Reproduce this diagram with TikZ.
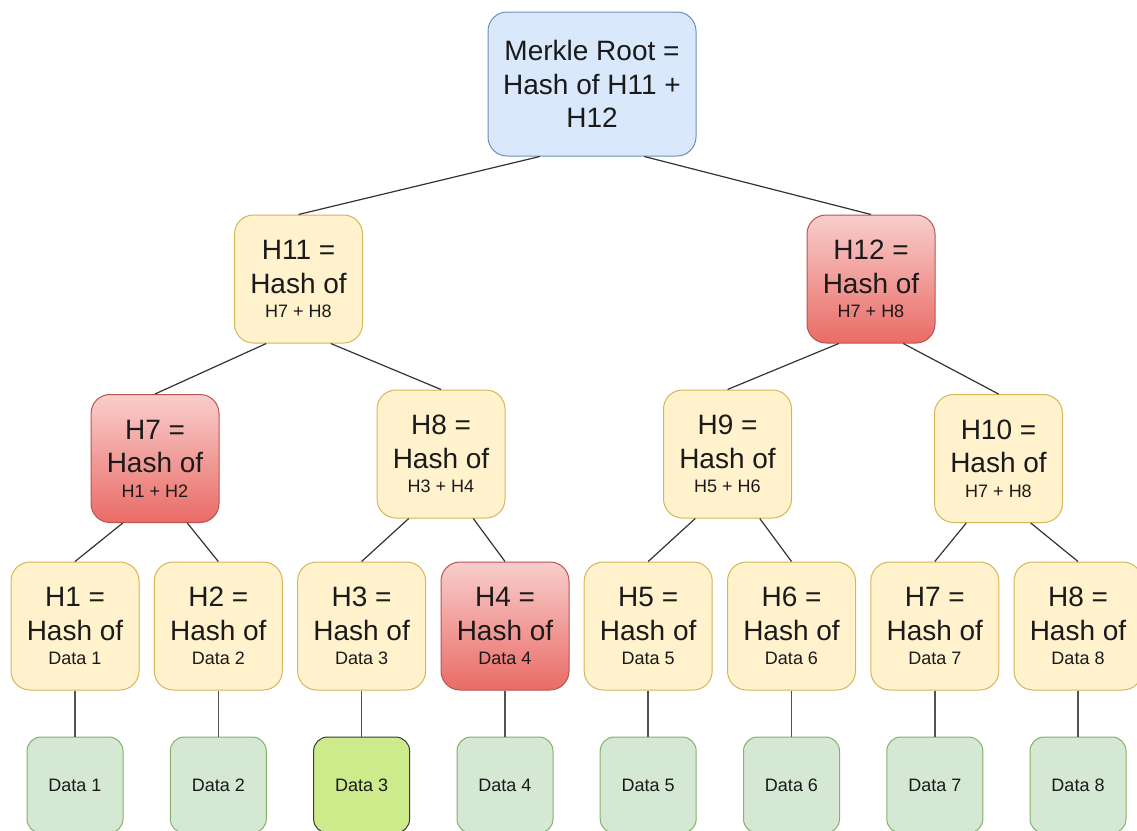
\documentclass[tikz,border=0pt]{standalone}
\usepackage{fontspec}
\setmainfont{Liberation Sans}
\usetikzlibrary{calc}

\definecolor{yfill}{HTML}{FFF2CC}
\definecolor{ydraw}{HTML}{D6B656}
\definecolor{rtop}{HTML}{F8CECC}
\definecolor{rbot}{HTML}{EA6B66}
\definecolor{rdraw}{HTML}{B85450}
\definecolor{bfill}{HTML}{DAE8FC}
\definecolor{bdraw}{HTML}{6C8EBF}
\definecolor{gfill}{HTML}{D5E8D4}
\definecolor{gdraw}{HTML}{82B366}
\definecolor{lfill}{HTML}{CDEB8B}
\definecolor{ldraw}{HTML}{36393D}
\definecolor{edgecol}{HTML}{333333}
\definecolor{txtcol}{HTML}{1A1A1A}

\newcommand\bigtxt{\fontsize{28}{33.6}\selectfont}
\newcommand\smalltxt{\fontsize{18}{21.6}\selectfont}
% three-line hash label: name, "Hash of", small operand line
\newcommand\hashtxt[2]{#1\\Hash of\\[-9pt]{\smalltxt #2}}

\begin{document}
\begin{tikzpicture}[x=1pt,y=-1pt,
  hashbox/.style={draw, rounded corners=19pt, minimum width=128pt,
    minimum height=128pt, inner sep=0pt, align=center, font=\bigtxt,
    text=txtcol, line width=1pt},
  hyel/.style={hashbox, fill=yfill, draw=ydraw},
  hred/.style={hashbox, top color=rtop, bottom color=rbot, draw=rdraw},
  rootbox/.style={hashbox, fill=bfill, draw=bdraw, minimum width=208pt,
    minimum height=144pt},
  databox/.style={draw=gdraw, fill=gfill, rounded corners=14pt,
    minimum width=96pt, minimum height=96pt, inner sep=0pt,
    font=\smalltxt, text=txtcol, line width=1pt},
  link/.style={draw=edgecol, line width=1.2pt},
  vlink/.style={draw=edgecol!85, line width=1.6pt}]

\useasboundingbox (0,0) rectangle (1137,830);

% root
\node[rootbox] (root) at (592,84) {Merkle Root =\\Hash of H11 +\\H12};

% second level
\node[hyel] (h11) at (298.5,279) {\hashtxt{H11 =}{H7 + H8}};
\node[hred] (h12) at (871,279) {\hashtxt{H12 =}{H7 + H8}};

% third level
\node[hred] (h7) at (155,458.5) {\hashtxt{H7 =}{H1 + H2}};
\node[hyel] (h8) at (441,454) {\hashtxt{H8 =}{H3 + H4}};
\node[hyel] (h9) at (727.5,454) {\hashtxt{H9 =}{H5 + H6}};
\node[hyel] (h10) at (998.5,458.5) {\hashtxt{H10 =}{H7 + H8}};

% leaf hashes
\node[hyel] (l1) at (75,626) {\hashtxt{H1 =}{Data 1}};
\node[hyel] (l2) at (218.3,626) {\hashtxt{H2 =}{Data 2}};
\node[hyel] (l3) at (361.6,626) {\hashtxt{H3 =}{Data 3}};
\node[hred] (l4) at (505,626) {\hashtxt{H4 =}{Data 4}};
\node[hyel] (l5) at (648.2,626) {\hashtxt{H5 =}{Data 5}};
\node[hyel] (l6) at (791.5,626) {\hashtxt{H6 =}{Data 6}};
\node[hyel] (l7) at (934.8,626) {\hashtxt{H7 =}{Data 7}};
\node[hyel] (l8) at (1078,626) {\hashtxt{H8 =}{Data 8}};

% data blocks
\node[databox] (d1) at (75,785) {Data 1};
\node[databox] (d2) at (218.3,785) {Data 2};
\node[databox, fill=lfill, draw=ldraw] (d3) at (361.6,785) {Data 3};
\node[databox] (d4) at (505,785) {Data 4};
\node[databox] (d5) at (648.2,785) {Data 5};
\node[databox] (d6) at (791.5,785) {Data 6};
\node[databox] (d7) at (934.8,785) {Data 7};
\node[databox] (d8) at (1078,785) {Data 8};

% tree edges: from the quarter points of each parent's bottom side
\foreach \p/\a/\b in {root/h11/h12, h11/h7/h8, h12/h9/h10,
                      h7/l1/l2, h8/l3/l4, h9/l5/l6, h10/l7/l8} {
  \draw[link] ($(\p.south west)!.25!(\p.south east)$) -- (\a.north);
  \draw[link] ($(\p.south west)!.75!(\p.south east)$) -- (\b.north);
}

% leaf hash to its data block
\foreach \i in {1,...,8} {
  \draw[vlink] (l\i.south) -- (d\i.north);
}
\end{tikzpicture}
\end{document}
